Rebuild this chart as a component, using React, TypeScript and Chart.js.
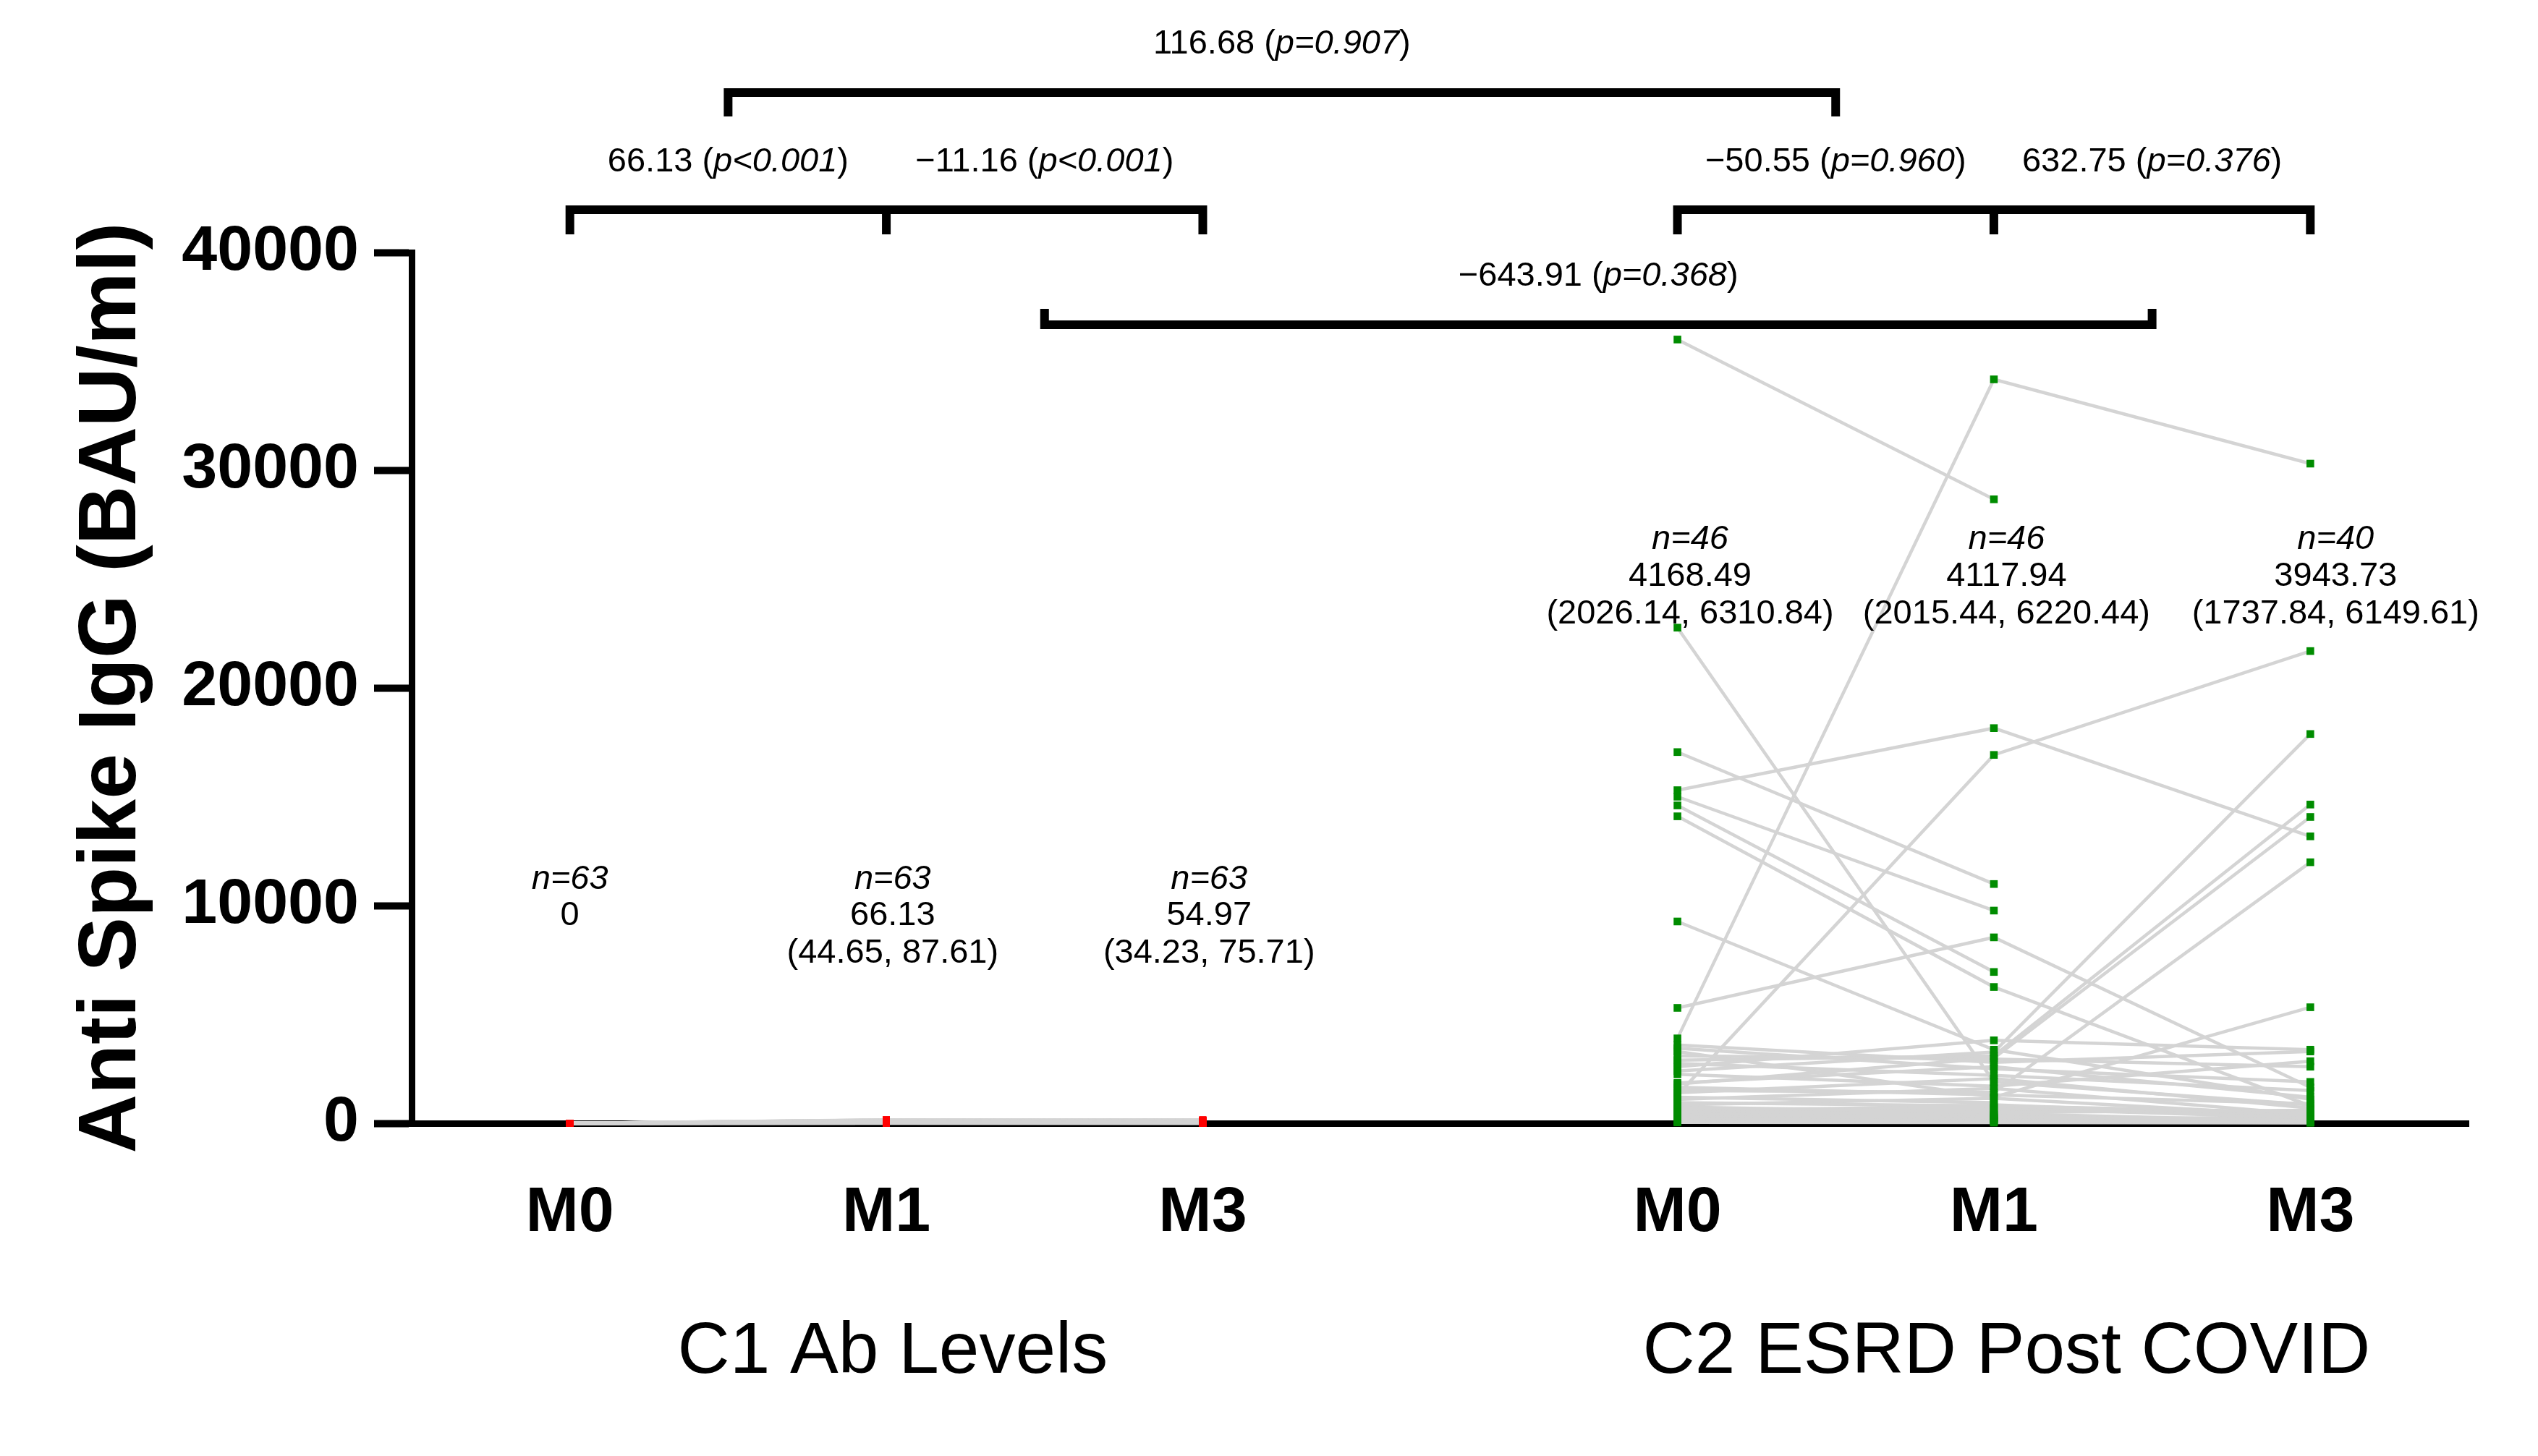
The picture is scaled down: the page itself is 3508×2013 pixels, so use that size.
import React, { useEffect, useRef } from 'react';
import { Chart, registerables } from 'chart.js';

Chart.register(...registerables);

// ---------------- data ----------------
const TIME_LABELS = ['M0', 'M1', 'M3'];
const GROUP_NAMES = ['C1 Ab Levels', 'C2 ESRD Post COVID'];
const C1_X = [0, 1, 2];
const C2_X = [3.5, 4.5, 5.5];
const Y_TICKS = [0, 10000, 20000, 30000, 40000];

// C1 Ab Levels (63 subjects)
const C1_M0 = [
  0, 0, 0, 0, 0, 0, 0, 0, 0,
  0, 0, 0, 0, 0, 0, 0, 0, 0,
  0, 0, 0, 0, 0, 0, 0, 0, 0,
  0, 0, 0, 0, 0, 0, 0, 0, 0,
  0, 0, 0, 0, 0, 0, 0, 0, 0,
  0, 0, 0, 0, 0, 0, 0, 0, 0,
  0, 0, 0, 0, 0, 0, 0, 0, 0,
];
const C1_M1 = [
  12, 25, 40, 55, 70, 85, 100, 130, 160, 150, 150,
  18, 33, 47, 62, 78, 93, 115, 145,
  8, 22, 38, 52, 66, 80, 95, 120, 120,
  5, 15, 28, 44, 58, 72, 88, 105, 140, 120,
  10, 20, 35, 50, 64, 76, 90, 110,
  30, 42, 56, 68, 82, 98, 125,
  3, 14, 26, 36, 48, 60, 74, 86, 102, 110,
];
const C1_M3 = [
  10, 20, 32, 45, 58, 70, 84, 100, 125, 160, 120,
  15, 28, 40, 52, 64, 76, 92, 115,
  6, 18, 30, 42, 55, 68, 80, 105, 140,
  4, 12, 24, 36, 48, 60, 72, 88, 110, 100,
  8, 16, 26, 38, 50, 62, 74, 96,
  22, 34, 46, 57, 69, 82, 130,
  2, 11, 21, 31, 41, 53, 65, 78, 90, 150,
];

// C2 ESRD Post COVID (46 subjects, 6 missing at M3)
const C2_M0 = [
  36000, 3900, 22765, 17050, 15300, 15000, 14600, 14100, 9270, 5300,
  1300, 2400, 2900, 1800, 1500, 3300, 2600, 3600,
  3450, 3100, 2750, 2250, 1850, 1650, 1400, 1200, 1100, 950,
  850, 750, 650, 580, 500, 450, 400, 350, 300, 260,
  220, 190, 160, 130, 110, 90, 70, 40,
];
const C2_M1 = [
  28660, 34170, 1900, 10990, 18150, 9770, 6950, 6260, 3380, 8540,
  16920, 3270, 3100, 3000, 1420, 1200, 3810, 2800,
  2500, 2950, 2200, 1700, 2600, 1300, 2050, 950, 1600, 800,
  1150, 500, 700, 400, 850, 300, 600, 250, 450, 180,
  350, 150, 260, 90, 200, 120, 60, 30,
];
const C2_M3: (number | null)[] = [
  null, 30300, 850, null, 13180, null, null, 800, 1100, 1650,
  21690, 17880, 14640, 14070, 11990, 5330, 3380, 3300,
  1900, 2600, 1500, 2850, 1200, 900, 700, null, 400, 500,
  350, 600, 250, null, 300, 150, 450, 200, 100, 280,
  120, 60, 180, 80, 140, 50, 90, 20,
];

// summary labels
const C1_N = ['n=63', 'n=63', 'n=63'];
const C1_MEAN = ['0', '66.13', '54.97'];
const C1_CI = ['', '(44.65, 87.61)', '(34.23, 75.71)'];
const C2_N = ['n=46', 'n=46', 'n=40'];
const C2_MEAN = ['4168.49', '4117.94', '3943.73'];
const C2_CI = ['(2026.14, 6310.84)', '(2015.44, 6220.44)', '(1737.84, 6149.61)'];

// comparisons
const COMP_DIFF = ['116.68', '66.13', '\u221211.16', '\u221250.55', '632.75', '\u2212643.91'];
const COMP_P = ['p=0.907', 'p<0.001', 'p<0.001', 'p=0.960', 'p=0.376', 'p=0.368'];

// ---------------- layout / style ----------------
const FONT = "'Liberation Sans', Arial, Helvetica, sans-serif";
const GREEN = '#008c00';
const RED = '#ff0000';
const GRAY = '#d4d4d4';

// brackets: offsets in px relative to chart area top
const BRACKETS = [
  { from: 0.5, to: 4.0, mids: [] as number[], dy: -221, tickDy: -188 },
  { from: 0, to: 2, mids: [1], dy: -59, tickDy: -25 },
  { from: 3.5, to: 5.5, mids: [4.5], dy: -59, tickDy: -25 },
  { from: 1.5, to: 5.0, mids: [] as number[], dy: 100, tickDy: 78 },
];
// comparison label positions (x in axis units, dy in px from chart top), same order as COMP_DIFF
const COMP_POS = [
  { x: 2.25, dy: -288 },
  { x: 0.5, dy: -125 },
  { x: 1.5, dy: -125 },
  { x: 4.0, dy: -125 },
  { x: 5.0, dy: -125 },
  { x: 3.25, dy: 33 },
];
const C1_LABEL_X = [0.0, 1.02, 2.02];
const C2_LABEL_X = [3.54, 4.54, 5.58];
const C1_LABEL_DY = [867, 917, 969];
const C2_LABEL_DY = [397, 448, 500];
const GROUP_LABEL_X = [1.02, 4.54];
const GROUP_LABEL_Y = 1870;

const ALL_TICK_X = [...C1_X, ...C2_X];
const ALL_TICK_LABELS = [...TIME_LABELS, ...TIME_LABELS];

function drawRich(ctx: CanvasRenderingContext2D, segs: { t: string; i: boolean }[], cx: number, cy: number, size: number) {
  const fonts = segs.map((s) => `${s.i ? 'italic ' : ''}${size}px ${FONT}`);
  let total = 0;
  const widths = segs.map((s, k) => {
    ctx.font = fonts[k];
    const w = ctx.measureText(s.t).width;
    total += w;
    return w;
  });
  let x = cx - total / 2;
  ctx.textAlign = 'left';
  ctx.textBaseline = 'middle';
  segs.forEach((s, k) => {
    ctx.font = fonts[k];
    ctx.fillText(s.t, x, cy);
    x += widths[k];
  });
}

const overlayPlugin = {
  id: 'overlay',
  afterDraw(chart: any) {
    const { ctx, chartArea, scales } = chart;
    const xs = scales.x;
    const top = chartArea.top;
    const px = (v: number) => xs.getPixelForValue(v);
    ctx.save();
    ctx.strokeStyle = '#000';
    ctx.lineWidth = 12;
    ctx.lineJoin = 'miter';
    ctx.lineCap = 'butt';
    BRACKETS.forEach((b) => {
      const y = top + b.dy;
      const ye = top + b.tickDy;
      ctx.beginPath();
      ctx.moveTo(px(b.from), ye);
      ctx.lineTo(px(b.from), y);
      ctx.lineTo(px(b.to), y);
      ctx.lineTo(px(b.to), ye);
      b.mids.forEach((m) => {
        ctx.moveTo(px(m), y);
        ctx.lineTo(px(m), ye);
      });
      ctx.stroke();
    });
    ctx.fillStyle = '#000';
    COMP_DIFF.forEach((d, k) => {
      drawRich(ctx, [
        { t: d + ' (', i: false },
        { t: COMP_P[k], i: true },
        { t: ')', i: false },
      ], px(COMP_POS[k].x), top + COMP_POS[k].dy, 47);
    });
    const drawStack = (xsv: number[], dys: number[], ns: string[], means: string[], cis: string[]) => {
      xsv.forEach((xv, k) => {
        const cx = px(xv);
        drawRich(ctx, [{ t: ns[k], i: true }], cx, top + dys[0], 47);
        drawRich(ctx, [{ t: means[k], i: false }], cx, top + dys[1], 47);
        if (cis[k]) drawRich(ctx, [{ t: cis[k], i: false }], cx, top + dys[2], 47);
      });
    };
    drawStack(C1_LABEL_X, C1_LABEL_DY, C1_N, C1_MEAN, C1_CI);
    drawStack(C2_LABEL_X, C2_LABEL_DY, C2_N, C2_MEAN, C2_CI);
    ctx.font = `100px ${FONT}`;
    ctx.textAlign = 'center';
    ctx.textBaseline = 'middle';
    GROUP_NAMES.forEach((g, k) => ctx.fillText(g, px(GROUP_LABEL_X[k]), GROUP_LABEL_Y));
    ctx.restore();
  },
};

function buildDatasets() {
  const ds: any[] = [];
  const c1Pts: any[] = [];
  const c2Pts: any[] = [];
  for (let i = 0; i < C1_M0.length; i++) {
    const vals = [C1_M0[i], C1_M1[i], C1_M3[i]];
    const pts = vals.map((v, k) => ({ x: C1_X[k], y: v }));
    c1Pts.push(...pts);
    ds.push({ data: pts, showLine: true, borderColor: GRAY, borderWidth: 4.5, pointRadius: 0, clip: false, order: 2 });
  }
  for (let i = 0; i < C2_M0.length; i++) {
    const vals = [C2_M0[i], C2_M1[i], C2_M3[i]];
    const pts = vals
      .map((v, k) => (v === null ? null : { x: C2_X[k], y: v }))
      .filter((p) => p !== null);
    c2Pts.push(...pts);
    ds.push({ data: pts, showLine: true, borderColor: GRAY, borderWidth: 4.5, pointRadius: 0, clip: false, order: 2 });
  }
  ds.unshift({ data: c1Pts, pointStyle: 'rect', pointRadius: 7, backgroundColor: RED, borderWidth: 0, showLine: false, clip: false, order: 1 });
  ds.unshift({ data: c2Pts, pointStyle: 'rect', pointRadius: 7.5, backgroundColor: GREEN, borderWidth: 0, showLine: false, clip: false, order: 1 });
  return ds;
}

export default function App() {
  const ref = useRef<HTMLCanvasElement>(null);
  useEffect(() => {
    const chart = new Chart(ref.current as HTMLCanvasElement, {
      type: 'scatter',
      data: { datasets: buildDatasets() },
      plugins: [overlayPlugin],
      options: {
        animation: false,
        responsive: false,
        devicePixelRatio: 1,
        events: [],
        layout: { padding: { top: 349, right: 96, bottom: 0, left: 0 } },
        plugins: { legend: { display: false }, tooltip: { enabled: false } },
        scales: {
          x: {
            type: 'linear',
            min: -0.5,
            max: 6,
            afterBuildTicks: (s: any) => {
              s.ticks = ALL_TICK_X.map((v) => ({ value: v }));
            },
            afterFit: (s: any) => {
              s.height = 460;
            },
            grid: { display: false, drawTicks: false },
            border: { display: true, width: 9, color: '#000' },
            ticks: {
              autoSkip: false,
              maxRotation: 0,
              padding: 72,
              color: '#000',
              font: { family: FONT, size: 88, weight: 'bold' },
              callback: (v: any) => {
                const k = ALL_TICK_X.indexOf(Number(v));
                return k >= 0 ? ALL_TICK_LABELS[k] : '';
              },
            },
          },
          y: {
            type: 'linear',
            min: 0,
            max: 40000,
            afterBuildTicks: (s: any) => {
              s.ticks = Y_TICKS.map((v) => ({ value: v }));
            },
            afterFit: (s: any) => {
              s.width = 569;
            },
            grid: { display: true, drawOnChartArea: false, drawTicks: true, tickLength: 52, tickWidth: 10, tickColor: '#000' },
            border: { display: true, width: 9, color: '#000' },
            ticks: {
              padding: 21,
              color: '#000',
              font: { family: FONT, size: 88, weight: 'bold' },
              callback: (v: any) => String(v),
            },
            title: {
              display: true,
              text: 'Anti Spike IgG (BAU/ml)',
              color: '#000',
              font: { family: FONT, size: 113, weight: 'bold' },
              padding: { top: 88, bottom: 0 },
            },
          },
        },
      } as any,
    });
    return () => chart.destroy();
  }, []);
  return (
    <div style={{ position: 'fixed', left: 0, top: 0, width: 3508, height: 2013, background: '#fff' }}>
      <canvas ref={ref} width={3508} height={2013} style={{ display: 'block', width: '3508px', height: '2013px' }} />
    </div>
  );
}
